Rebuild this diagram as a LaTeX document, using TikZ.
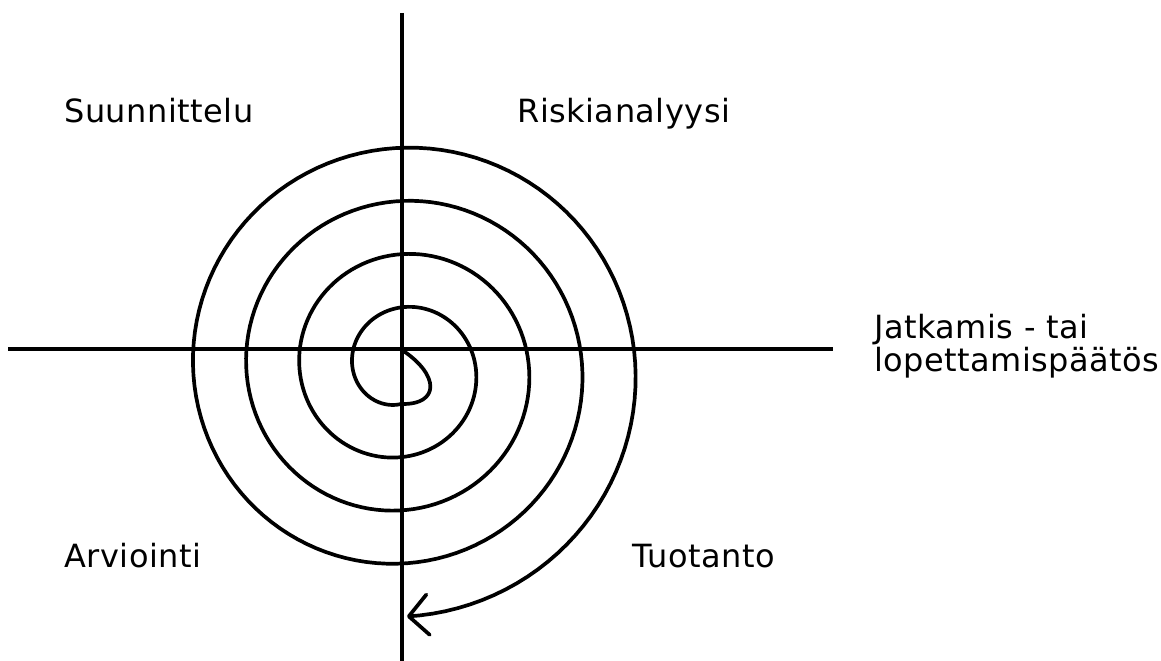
\documentclass[tikz,border=0pt]{standalone}
\usepackage{fontspec}
\setmainfont{DejaVu Sans}
\usepackage{tikz}
\usetikzlibrary{arrows.meta}

\begin{document}
\begin{tikzpicture}[
  x=0.02cm, y=-0.02cm,
  axisline/.style={line width=1.9pt},
  spiral/.style={line width=2.1pt, -{Straight Barb[length=11pt, width=23pt, round]}},
  phase/.style={anchor=base west, inner sep=0pt, font=\fontsize{18.2}{20}\selectfont\addfontfeatures{LetterSpace=1.5}}
]
\useasboundingbox (0,0) rectangle (1161,661);

% Axes
\coordinate (top) at (402,13);
\coordinate (bottom) at (402,661);
\coordinate (left) at (8,349);
\coordinate (right) at (833,349);
\draw[axisline] (top) -- (bottom);
\draw[axisline] (left) -- (right);

% Spiral
\draw[spiral] (402,350) .. controls (440,375) and (440,405) .. (401,404)
  -- plot[domain=0:15.985, samples=480]
     ({401+(35+13.3*\x)*cos(-90-90*\x)}, {369-(35+13.3*\x)*sin(-90-90*\x)});

% Quadrants
\node[phase] (plan) at (64,123) {Suunnittelu};
\node[phase] (risk) at (517,123) {Riskianalyysi};
\node[phase] (eval) at (64,568) {Arviointi};
\node[phase] (prod) at (632,568) {Tuotanto};

% Decision
\node[phase] (dec1) at (874,339) {Jatkamis - tai};
\node[phase] (dec2) at (874,372) {lopettamispäätös};

\end{tikzpicture}
\end{document}
